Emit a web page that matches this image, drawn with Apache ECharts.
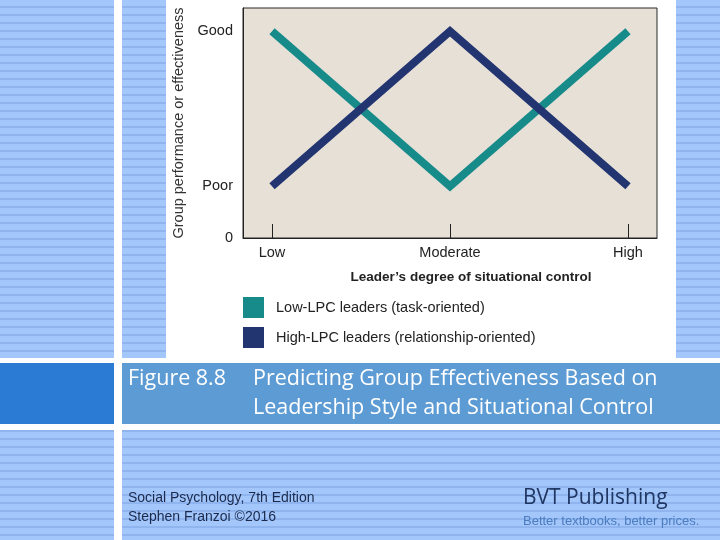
<!DOCTYPE html>
<html><head><meta charset="utf-8">
<script src="https://cdn.jsdelivr.net/npm/echarts@6/dist/echarts.min.js"></script>
<style>
html,body{margin:0;padding:0;background:#fff;}
#wrap{position:relative;width:720px;height:540px;overflow:hidden;
 background:repeating-linear-gradient(to bottom,#a3c6fb 0px,#a3c6fb 6px,#90b5ee 6px,#90b5ee 8px);}
.b{position:absolute;}
#chart{position:absolute;left:0;top:0;width:720px;height:540px;}
</style></head><body>
<div id="wrap">
<div class="b" style="left:114px;top:0;width:8px;height:540px;background:#fff"></div>
<div class="b" style="left:166px;top:0;width:510px;height:359px;background:#fff"></div>
<div class="b" style="left:0;top:358px;width:720px;height:5px;background:#fff"></div>
<div class="b" style="left:0;top:424px;width:720px;height:6px;background:#fff"></div>
<div class="b" style="left:0;top:363px;width:114px;height:61px;background:#2b7bd5"></div>
<div class="b" style="left:122px;top:363px;width:598px;height:61px;background:#5c9bd3"></div>
<div id="chart"></div>
</div>
<script>
const categories = ['Low', 'Moderate', 'High'];
const yTickValues = [0, 1, 4];
const yTickLabels = ['0', 'Poor', 'Good'];
const lowLPC = [4, 1, 4];
const highLPC = [1, 4, 1];
const seriesNames = ['Low-LPC leaders (task-oriented)', 'High-LPC leaders (relationship-oriented)'];
const xTitle = 'Leader\u2019s degree of situational control';
const yTitle = 'Group performance or effectiveness';
const figLabel = 'Figure 8.8';
const titleLines = ['Predicting Group Effectiveness Based on', 'Leadership Style and Situational Control'];
const footerLeft = ['Social Psychology, 7th Edition', 'Stephen Franzoi \u00a92016'];
const publisher = 'BVT Publishing';
const slogan = 'Better textbooks, better prices.';

const FONT = '"Liberation Sans", Arial, sans-serif';
const catIdx = categories.map((c, i) => i);
const toPts = arr => arr.map((v, i) => [i, v]);

const chart = echarts.init(document.getElementById('chart'), null, {renderer: 'canvas'});
chart.setOption({
  animation: false,
  backgroundColor: 'transparent',
  grid: {left: 243, top: 8, width: 414, height: 230, show: true,
         backgroundColor: '#e6e0d7', borderColor: '#2a2a2a', borderWidth: 1},
  xAxis: {
    type: 'value', min: -0.163, max: 2.163,
    axisLine: {show: true, onZero: false, lineStyle: {color: '#222', width: 1}},
    axisTick: {show: true, inside: true, length: 14, customValues: catIdx, lineStyle: {color: '#222', width: 1}},
    axisLabel: {customValues: catIdx, formatter: v => categories[Math.round(v)], margin: 7,
                color: '#222', fontSize: 14.5, fontFamily: FONT},
    splitLine: {show: false},
    name: xTitle, nameLocation: 'middle', nameGap: 32,
    nameTextStyle: {fontSize: 13.5, fontWeight: 'bold', color: '#222', fontFamily: FONT, padding: [0, 0, 0, 42]}
  },
  yAxis: {
    type: 'value', min: 0, max: 4.45,
    axisLine: {show: true, onZero: false, lineStyle: {color: '#222', width: 1}},
    axisTick: {show: false},
    axisLabel: {customValues: yTickValues, formatter: v => yTickLabels[yTickValues.indexOf(Math.round(v))],
                margin: 10, color: '#222', fontSize: 14.5, fontFamily: FONT},
    splitLine: {show: false},
    name: yTitle, nameLocation: 'middle', nameRotate: 90, nameGap: 57,
    nameTextStyle: {fontSize: 14.5, color: '#333', fontFamily: FONT}
  },
  legend: {
    orient: 'vertical', left: 243, top: 297, padding: 0, itemGap: 9,
    itemWidth: 21, itemHeight: 21, icon: 'rect',
    textStyle: {fontSize: 14.5, color: '#222', fontFamily: FONT, padding: [0, 0, 0, 7]},
    data: seriesNames
  },
  series: [
    {name: seriesNames[0], type: 'line', data: toPts(lowLPC), showSymbol: false,
     color: '#178a8a', lineStyle: {width: 8, color: '#178a8a', cap: 'butt', join: 'miter'}, z: 2},
    {name: seriesNames[1], type: 'line', data: toPts(highLPC), showSymbol: false,
     color: '#233571', lineStyle: {width: 8, color: '#233571', cap: 'butt', join: 'miter'}, z: 3}
  ],
  graphic: [
    {type: 'text', x: 128, y: 379, style: {text: figLabel, fill: '#fff', font: '21.5px "Open Sans", sans-serif', align: 'left', verticalAlign: 'middle'}},
    {type: 'text', x: 253, y: 379, style: {text: titleLines[0], fill: '#fff', font: '21.5px "Open Sans", sans-serif', align: 'left', verticalAlign: 'middle'}},
    {type: 'text', x: 253, y: 408, style: {text: titleLines[1], fill: '#fff', font: '21.5px "Open Sans", sans-serif', align: 'left', verticalAlign: 'middle'}},
    {type: 'text', x: 128, y: 498, style: {text: footerLeft[0], fill: '#1b2a4c', font: '14px "Liberation Sans", sans-serif', align: 'left', verticalAlign: 'middle'}},
    {type: 'text', x: 128, y: 517, style: {text: footerLeft[1], fill: '#1b2a4c', font: '14px "Liberation Sans", sans-serif', align: 'left', verticalAlign: 'middle'}},
    {type: 'text', x: 523, y: 498, style: {text: publisher, fill: '#1f3562', font: '21px "Open Sans", sans-serif', align: 'left', verticalAlign: 'middle'}},
    {type: 'text', x: 523, y: 521, style: {text: slogan, fill: '#4a7bbf', font: '13px "Liberation Sans", sans-serif', align: 'left', verticalAlign: 'middle'}}
  ]
});
</script>
</body></html>
